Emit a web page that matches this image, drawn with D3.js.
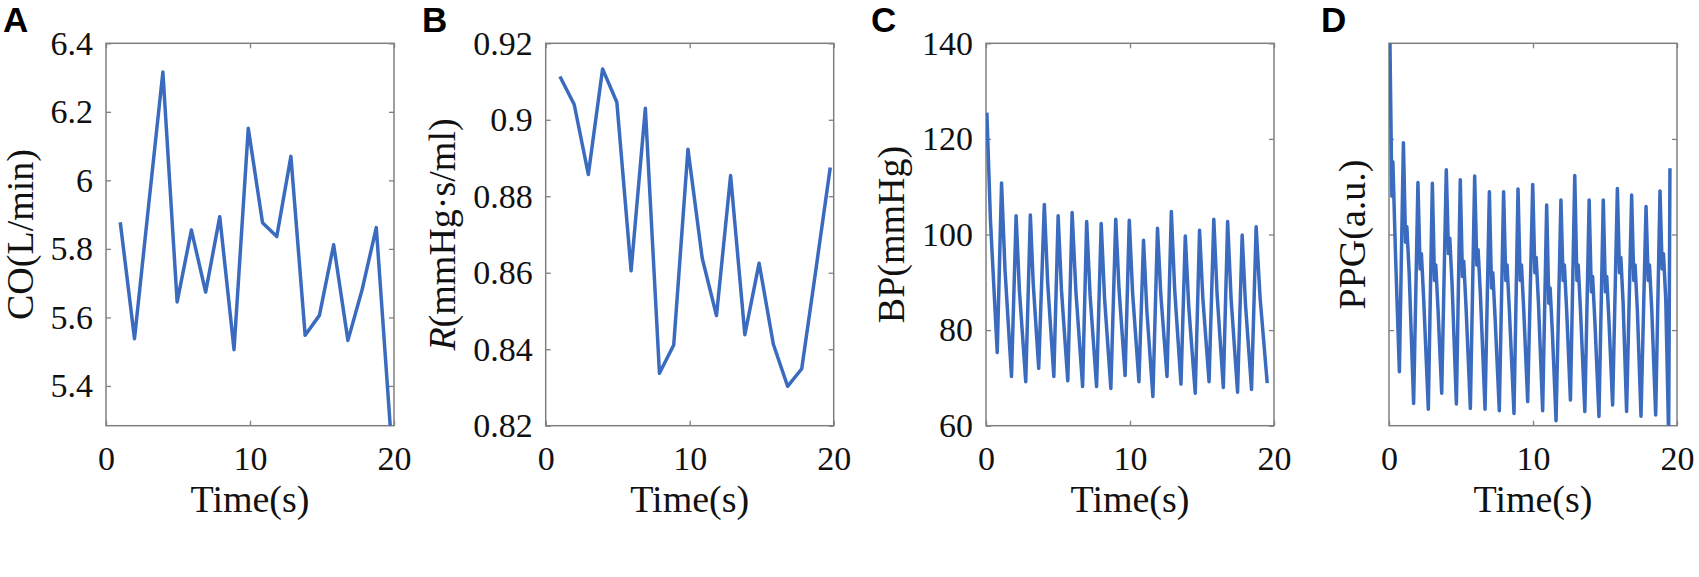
<!DOCTYPE html>
<html>
<head>
<meta charset="utf-8">
<script src="https://cdn.jsdelivr.net/npm/d3@7"></script>
<style>
  body { margin: 0; background: #ffffff; }
  .tick_label { font-family: "Liberation Serif", "Times New Roman", serif; font-size: 34px; fill: #111; }
  .axis_title { font-family: "Liberation Serif", "Times New Roman", serif; font-size: 38px; fill: #111; }
  .panel_letter { font-family: "Liberation Sans", Arial, sans-serif; font-weight: bold; font-size: 35px; fill: #000; }
</style>
</head>
<body>
<svg id="chart" width="1699" height="577"></svg>
<script>

// ---- Data ----

// Beat times shared by panels A and B (s)
var beatTimes = [0.99, 1.98, 2.96, 3.95, 4.94, 5.93, 6.92, 7.90, 8.89, 9.88,
                 10.87, 11.86, 12.84, 13.83, 14.82, 15.81, 16.80, 17.78, 18.77, 19.76];

// A: cardiac output (L/min)
var coValues = [5.878, 5.538, 5.927, 6.316, 5.645, 5.855, 5.674, 5.894, 5.506, 6.152,
                5.876, 5.836, 6.070, 5.548, 5.606, 5.812, 5.533, 5.680, 5.862, 5.270];

// B: peripheral resistance (mmHg*s/ml)
var resistValues = [0.9113, 0.9040, 0.8857, 0.9133, 0.9046, 0.8605, 0.9030, 0.8337, 0.8411, 0.8923,
                    0.8638, 0.8488, 0.8854, 0.8438, 0.8625, 0.8413, 0.8303, 0.8349, 0.8610, 0.8875];

// C: blood pressure, one entry per beat (peak, dicrotic notch, trough)
var bpPeakT   = [0.06, 1.08, 2.09, 3.08, 4.05, 5.01, 5.98, 6.99, 8.00, 9.01,
                 9.95, 10.94, 11.91, 12.87, 13.84, 14.83, 15.82, 16.78, 17.79, 18.76];
var bpPeakV   = [125.5, 110.8, 103.9, 104.1, 106.3, 103.9, 104.6, 102.7, 102.3, 103.2,
                 103.0, 98.8, 101.3, 104.8, 99.7, 100.9, 103.2, 102.7, 99.9, 101.6];
var bpNotchT  = [0.31, 1.32, 2.32, 3.28, 4.28, 5.24, 6.24, 7.23, 8.23, 9.24,
                 10.18, 11.17, 12.14, 13.10, 14.08, 15.06, 16.05, 17.02, 18.02, 19.03];
var bpNotchV  = [102.9, 92.6, 88.3, 89.7, 90.1, 88.4, 88.2, 87.2, 86.8, 88.5,
                 87.8, 84.1, 87.4, 88.6, 84.9, 86.6, 87.4, 86.6, 85.4, 86.9];
var bpTroughT = [0.78, 1.77, 2.76, 3.66, 4.71, 5.68, 6.71, 7.68, 8.67, 9.66,
                 10.62, 11.59, 12.57, 13.54, 14.53, 15.49, 16.48, 17.47, 18.44, 19.53];
var bpTroughV = [75.3, 70.3, 69.2, 72.0, 70.3, 69.4, 68.2, 68.2, 67.8, 70.5,
                 69.2, 66.1, 70.3, 68.7, 66.8, 69.2, 68.0, 67.0, 67.6, 68.9];

// D: PPG (a.u., box spans 0..1), per beat: peak, notch, dicrotic bump, shoulder, trough
var ppgStart    = [0, 0.88];
var ppgPeakT    = [0.05, 1.00, 2.01, 3.01, 3.98, 4.95, 5.95, 6.97, 7.96, 8.96,
                   9.98, 10.95, 11.94, 12.90, 13.90, 14.88, 15.86, 16.85, 17.85, 18.82, 19.51];
var ppgPeakV    = [1.05, 0.740, 0.636, 0.634, 0.669, 0.643, 0.653, 0.612, 0.612, 0.619,
                   0.631, 0.577, 0.590, 0.654, 0.590, 0.590, 0.620, 0.603, 0.573, 0.614, 0.673];
var ppgNotchT   = [0.20, 1.15, 2.16, 3.16, 4.13, 5.10, 6.10, 7.12, 8.11, 9.11,
                   10.13, 11.10, 12.09, 13.05, 14.05, 15.03, 16.01, 17.00, 18.00, 18.97];
var ppgNotchV   = [0.60, 0.48, 0.41, 0.38, 0.45, 0.39, 0.42, 0.36, 0.38, 0.38,
                   0.40, 0.32, 0.38, 0.38, 0.35, 0.35, 0.40, 0.38, 0.38, 0.41];
var ppgBumpT    = [0.27, 1.24, 2.25, 3.25, 4.22, 5.19, 6.19, 7.21, 8.20, 9.20,
                   10.22, 11.19, 12.18, 13.14, 14.14, 15.12, 16.10, 17.09, 18.09, 19.06];
var ppgBumpV    = [0.69, 0.52, 0.45, 0.42, 0.49, 0.43, 0.46, 0.40, 0.42, 0.42,
                   0.44, 0.36, 0.42, 0.42, 0.39, 0.39, 0.44, 0.42, 0.42, 0.45];
var ppgShoulderT = [0.45, 1.40, 2.41, 3.41, 4.38, 5.35, 6.35, 7.37, 8.36, 9.36,
                    10.38, 11.35, 12.34, 13.30, 14.30, 15.28, 16.26, 17.25, 18.25, 19.22];
var ppgShoulderV = [0.45, 0.40, 0.33, 0.30, 0.37, 0.31, 0.34, 0.28, 0.30, 0.30,
                    0.32, 0.24, 0.30, 0.30, 0.27, 0.27, 0.32, 0.30, 0.30, 0.33];
var ppgTroughT  = [0.72, 1.71, 2.73, 3.66, 4.68, 5.65, 6.67, 7.66, 8.68, 9.63,
                   10.67, 11.60, 12.60, 13.60, 14.58, 15.53, 16.50, 17.50, 18.52, 19.42];
var ppgTroughV  = [0.141, 0.058, 0.043, 0.085, 0.057, 0.045, 0.043, 0.039, 0.032, 0.063,
                   0.039, 0.013, 0.067, 0.037, 0.024, 0.054, 0.037, 0.025, 0.028, -0.03];

var timeTicks = [0, 10, 20];
var coTicks = [5.4, 5.6, 5.8, 6.0, 6.2, 6.4];
var resistTicks = [0.82, 0.84, 0.86, 0.88, 0.90, 0.92];
var bpTicks = [60, 80, 100, 120, 140];
var ppgTicks = [0.25, 0.5, 0.75];

// ---- Build point lists ----

var coPoints = beatTimes.map(function(t, i){ return [t, coValues[i]]; });
var resistPoints = beatTimes.map(function(t, i){ return [t, resistValues[i]]; });

var bpPoints = [];
for ( var i = 0; i < bpPeakT.length; i++ ){
    bpPoints.push([bpPeakT[i], bpPeakV[i]]);
    bpPoints.push([bpNotchT[i], bpNotchV[i]]);
    bpPoints.push([bpTroughT[i], bpTroughV[i]]);
}

var ppgPoints = [ppgStart];
for ( var j = 0; j < ppgPeakT.length; j++ ){
    ppgPoints.push([ppgPeakT[j], ppgPeakV[j]]);
    if ( j < ppgTroughT.length ){
        ppgPoints.push([ppgNotchT[j], ppgNotchV[j]]);
        ppgPoints.push([ppgBumpT[j], ppgBumpV[j]]);
        ppgPoints.push([ppgShoulderT[j], ppgShoulderV[j]]);
        ppgPoints.push([ppgTroughT[j], ppgTroughV[j]]);
    }
}

// ---- Panels ----

var panels = [
    { id: "A", left: 106,   yDomain: [5.284, 6.4], yTicks: coTicks,     fmt: d3.format(".1~f"), labels: true,
      title: "CO(L/min)", points: coPoints, letterX: 3 },
    { id: "B", left: 545.7, yDomain: [0.82, 0.92], yTicks: resistTicks, fmt: d3.format(".2~f"), labels: true,
      title: null, points: resistPoints, letterX: 422 },
    { id: "C", left: 986,   yDomain: [60, 140],    yTicks: bpTicks,     fmt: d3.format("d"),    labels: true,
      title: "BP(mmHg)", points: bpPoints, letterX: 871 },
    { id: "D", left: 1389,  yDomain: [0, 1],       yTicks: ppgTicks,    fmt: null,              labels: false,
      title: "PPG(a.u.)", points: ppgPoints, letterX: 1321 }
];

var boxWidth = 288, boxTop = 43.3, boxBottom = 425.7;
var axisColor = "#808080", lineColor = "#3a6bbf";

var svg = d3.select("#chart");

panels.forEach(function(p){

    var x = d3.scaleLinear().domain([0, 20]).range([0, boxWidth]);
    var y = d3.scaleLinear().domain(p.yDomain).range([boxBottom - boxTop, 0]);
    var h = boxBottom - boxTop;

    var g = svg.append("g")
               .attr("transform", "translate(" + p.left + "," + boxTop + ")");

    g.append("clipPath")
     .attr("id", "clip_" + p.id)
     .append("rect")
     .attr("width", boxWidth)
     .attr("height", h);

    // Bottom axis with labels, top mirrored without
    var xb = g.append("g")
              .attr("transform", "translate(0," + h + ")")
              .call(d3.axisBottom(x).tickValues(timeTicks).tickSizeInner(-5).tickSizeOuter(0));
    xb.selectAll("text").attr("class", "tick_label").attr("dy", null).attr("y", 44).attr("font-size", null).attr("font-family", null);
    g.append("g")
     .call(d3.axisTop(x).tickValues(timeTicks).tickSizeInner(-5).tickSizeOuter(0).tickFormat(""));

    // Left axis, right mirrored
    var yl = g.append("g")
              .call(d3.axisLeft(y).tickValues(p.yTicks).tickSizeInner(-5).tickSizeOuter(0).tickPadding(13)
                      .tickFormat(p.labels ? p.fmt : ""));
    yl.selectAll("text").attr("class", "tick_label").attr("font-size", null).attr("font-family", null);
    g.append("g")
     .attr("transform", "translate(" + boxWidth + ",0)")
     .call(d3.axisRight(y).tickValues(p.yTicks).tickSizeInner(-5).tickSizeOuter(0).tickFormat(""));

    g.selectAll(".domain").remove();
    g.selectAll(".tick line").attr("stroke", axisColor).attr("stroke-width", 1.3);

    // Box
    g.append("rect")
     .attr("width", boxWidth)
     .attr("height", h)
     .attr("fill", "none")
     .attr("stroke", axisColor)
     .attr("stroke-width", 1.5);

    // Series
    var line = d3.line()
                 .x(function(d){ return x(d[0]); })
                 .y(function(d){ return y(d[1]); });

    g.append("path")
     .datum(p.points)
     .attr("clip-path", "url(#clip_" + p.id + ")")
     .attr("d", line)
     .attr("fill", "none")
     .attr("stroke", lineColor)
     .attr("stroke-width", 3.5)
     .attr("stroke-linejoin", "round");

    // X title
    g.append("text")
     .attr("class", "axis_title")
     .attr("x", boxWidth / 2)
     .attr("y", 469)
     .attr("text-anchor", "middle")
     .text("Time(s)");

    // Y title, placed left of the widest tick label
    var labelLeft = 0;
    yl.selectAll("text").each(function(){
        var b = this.getBBox();
        if ( b.width > 0 ) labelLeft = Math.min(labelLeft, b.x);
    });
    var titleX = p.labels ? labelLeft - 18 : -24;

    var yTitle = g.append("text")
                  .attr("class", "axis_title")
                  .attr("transform", "translate(" + titleX + "," + (h / 2) + ") rotate(-90)")
                  .attr("text-anchor", "middle");
    if ( p.id == "B" ){
        yTitle.append("tspan").attr("font-style", "italic").text("R");
        yTitle.append("tspan").text("(mmHg\u00b7s/ml)");
    }
    else {
        yTitle.text(p.title);
    }

    // Panel letter
    svg.append("text")
       .attr("class", "panel_letter")
       .attr("x", p.letterX)
       .attr("y", 32)
       .text(p.id);
});

</script>
</body>
</html>
